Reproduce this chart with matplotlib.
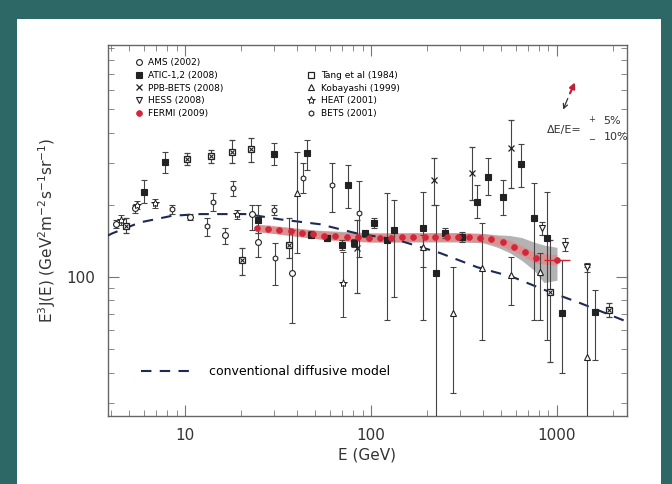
import matplotlib
matplotlib.use('Agg')
import matplotlib.pyplot as plt
import numpy as np
from matplotlib.lines import Line2D
from matplotlib.patches import Rectangle
from matplotlib.ticker import LogLocator, FixedLocator, FixedFormatter, NullFormatter

# ---------------- data (E in GeV, E^3 J in GeV^2 m^-2 s^-1 sr^-1) ----------------
fermi_E = [24.5, 28, 32, 37, 42.5, 49, 56, 64, 74, 85, 97, 112, 128, 147, 169, 194,
           222, 255, 293, 337, 387, 444, 510, 585, 672, 772, 1000]
fermi_V = [160, 159, 157, 155, 153, 151, 149, 148, 147, 146.5, 146, 146, 146, 146.5,
           147, 147, 147, 147, 147, 146.5, 146, 144, 140, 134, 127, 120, 118]
fermi_band_lo = [154, 153, 151, 149, 147, 145, 143, 142, 141, 140.5, 140, 140, 140, 140.5,
                 141, 141, 141, 141, 141, 140.5, 140, 138, 134, 128, 121, 114, 112]
fermi_band_hi = [166, 165, 163, 161, 159, 157, 155, 154, 153, 152.5, 152, 152, 152, 152.5,
                 153, 153, 153, 153, 153, 152.5, 152, 150, 146, 140, 133, 126, 124]

sys_E = [24.5, 50, 100, 200, 300, 400, 480, 560, 650, 750, 850, 1000]
sys_lo = [155, 145, 140, 140, 140, 139, 133, 126, 117, 107, 95, 97]
sys_hi = [165, 157, 153, 153, 153, 152, 150, 149, 146, 140, 136, 133]

model_E = [3.85, 4.05, 5.73, 8.5, 12.0, 21.5, 32.4, 53.2, 84.1, 138, 235, 372, 580, 861, 1330, 2265, 2380]
model_V = [149, 152, 169, 180, 183, 183, 174, 166, 152, 143, 126, 110, 100, 88.3, 78, 66.2, 65]

atic_E = [6.0, 7.8, 24.7, 30.1, 45.3, 47.6, 58.0, 69.8, 75.2, 81.1, 92.9, 104, 122, 133,
          190, 224, 250, 308, 372, 426, 513, 640, 752, 883, 1064, 1600]
atic_V = [226, 301, 173, 325, 329, 150, 145, 136, 242, 139, 152, 168, 143, 157,
          160, 104, 152, 147, 205, 261, 215, 296, 176, 145, 70.8, 71.5]
atic_lo = [203, 271, 152, 293, 279, 145, 141, 130, 194, 134, 147, 160, 66, 82.5,
           66, 20, 145, 140, 176, 220, 181, 237, 66, 54.6, 39.8, 45]
atic_hi = [254, 332, 200, 362, 372, 155, 150, 143, 293, 144, 157, 176, 224, 209,
           226, 200, 160, 154, 242, 313, 254, 358, 246, 226, 118, 88]

tang_E = [4.82, 10.25, 13.8, 17.9, 20.3, 22.6, 36.2, 917, 1905]
tang_V = [163, 310, 319, 332, 118, 341, 136, 86.6, 72.8]
tang_lo = [152, 293, 298, 298, 102, 301, 120, 44.2, 68]
tang_hi = [176, 329, 338, 372, 132, 379, 176, 143, 78]

ppb_E = [84.1, 218, 349, 566]
ppb_V = [132, 254, 271, 345]
ppb_lo = [85.7, 200, 209, 235]
ppb_hi = [173, 313, 348, 451]

hess_E = [830, 1104, 1449]
hess_V = [160, 136, 110]
hess_lo = [150, 128, 105]
hess_hi = [170, 146, 115]

koba_E = [40.0, 190, 276, 395, 566, 810, 1449]
koba_V = [224, 133, 70.8, 109, 102, 105, 46.4]
koba_lo = [126, 110, 32.9, 54.6, 76.4, 66.2, 20]
koba_hi = [332, 150, 110, 168, 121, 126, 110]

heat_E = [4.53, 5.52, 6.9, 19.0, 70.7]
heat_V = [173, 200, 203, 183, 94.4]
heat_lo = [165, 192, 194, 175, 68.1]
heat_hi = [181, 208, 211, 190, 127]

bets_E = [8.5, 13.1, 14.1, 18.1, 30.1, 30.5, 43.1, 61.7, 86.2]
bets_V = [192, 163, 205, 235, 190, 120, 258, 242, 185]
bets_lo = [183, 148, 188, 218, 181, 92.6, 224, 187, 121]
bets_hi = [200, 176, 224, 251, 200, 139, 298, 298, 251]

ams_E = [4.26, 5.38, 10.6, 16.4, 22.9, 24.7, 37.6]
ams_V = [166, 194, 178, 150, 183, 140, 104]
ams_lo = [160, 185, 173, 137, 157, 121, 64.3]
ams_hi = [173, 200, 183, 160, 200, 152, 157]

x_ticks = [10, 100, 1000]
x_labels = ['10', '100', '1000']
y_ticks = [100]
y_labels = ['100']

# ---------------- figure ----------------
TEAL = '#2d6866'
fig = plt.figure(figsize=(6.72, 4.84), dpi=100, facecolor=TEAL)
fig.add_artist(Rectangle((17 / 672, 0), (661 - 17) / 672, 1 - 19 / 484,
                         transform=fig.transFigure, facecolor='white',
                         edgecolor='none', zorder=-10))
ax = fig.add_axes([108 / 672, (484 - 416) / 484, 519 / 672, 371 / 484])
ax.set_xscale('log')
ax.set_yscale('log')
ax.set_xlim(3.85, 2380)
ax.set_ylim(26.4, 926)

ink = '#222222'
ecol = '#444444'

def eb(E, V, lo, hi, **kw):
    E = np.asarray(E, float); V = np.asarray(V, float)
    yerr = [V - np.asarray(lo, float), np.asarray(hi, float) - V]
    ax.errorbar(E, V, yerr=yerr, ecolor=ecol, elinewidth=0.8, capsize=2.2,
                capthick=0.8, linestyle='none', zorder=4, **kw)

# Fermi bands
ax.fill_between(sys_E, sys_lo, sys_hi, color='#9a9a9a', alpha=0.75, lw=0, zorder=2)
ax.fill_between(fermi_E, fermi_band_lo, fermi_band_hi, color='#ee8080', alpha=0.7, lw=0, zorder=3)

# model
ax.plot(model_E, model_V, color='#1c2a55', lw=1.5, dashes=(5, 4), zorder=3.5)

sty = dict(
    ams=dict(marker='o', ms=4.2, mfc='white', mec=ink, mew=0.8),
    atic=dict(marker='s', ms=4.2, mfc=ink, mec=ink, mew=0.8),
    ppb=dict(marker='x', ms=4.5, mfc='none', mec=ink, mew=0.9),
    hess=dict(marker='v', ms=4.5, mfc='white', mec=ink, mew=0.8),
    fermi=dict(marker='o', ms=4.2, mfc='#d0283a', mec='#d0283a', mew=0.5),
    tang=dict(marker='s', ms=4.5, mfc='white', mec=ink, mew=0.9),
    koba=dict(marker='^', ms=4.5, mfc='white', mec=ink, mew=0.8),
    heat=dict(marker='*', ms=6.0, mfc='white', mec=ink, mew=0.7),
    bets=dict(marker='h', ms=3.8, mfc='white', mec=ink, mew=0.8),
)

eb(ams_E, ams_V, ams_lo, ams_hi, **sty['ams'])
eb(atic_E, atic_V, atic_lo, atic_hi, **sty['atic'])
eb(ppb_E, ppb_V, ppb_lo, ppb_hi, **sty['ppb'])
eb(hess_E, hess_V, hess_lo, hess_hi, **sty['hess'])
eb(tang_E, tang_V, tang_lo, tang_hi, **sty['tang'])
ax.plot(tang_E, tang_V, linestyle='none', marker='x', ms=3.5, mec=ink, mew=0.8, zorder=5)
eb(koba_E, koba_V, koba_lo, koba_hi, **sty['koba'])
eb(heat_E, heat_V, heat_lo, heat_hi, **sty['heat'])
eb(bets_E, bets_V, bets_lo, bets_hi, **sty['bets'])

fx = np.zeros(len(fermi_E)); fx_hi = np.zeros(len(fermi_E))
fx[-1] = 150; fx_hi[-1] = 180
ax.errorbar(fermi_E, fermi_V, xerr=[fx, fx_hi], linestyle='none', ecolor='#d0283a',
            elinewidth=1.0, zorder=6, **sty['fermi'])

# axes styling
for s in ax.spines.values():
    s.set_color('#666666'); s.set_linewidth(1.0)
ax.xaxis.set_major_locator(FixedLocator(x_ticks))
ax.xaxis.set_major_formatter(FixedFormatter(x_labels))
ax.xaxis.set_minor_locator(LogLocator(base=10, subs=np.arange(2, 10)))
ax.xaxis.set_minor_formatter(NullFormatter())
ax.yaxis.set_major_locator(FixedLocator(y_ticks))
ax.yaxis.set_major_formatter(FixedFormatter(y_labels))
ax.yaxis.set_minor_locator(LogLocator(base=10, subs=np.arange(2, 10)))
ax.yaxis.set_minor_formatter(NullFormatter())
ax.tick_params(which='both', direction='in', top=True, right=True, color='#777777')
ax.tick_params(which='major', length=8, width=0.8, labelsize=11, labelcolor='#333333', pad=9)
ax.tick_params(which='minor', length=4, width=0.6)

ax.set_xlabel('E (GeV)', fontsize=11, color='#333333', labelpad=3)
ax.set_ylabel(r'E$^3$J(E) (GeV$^2$m$^{-2}$s$^{-1}$sr$^{-1}$)', fontsize=11,
              color='#333333', labelpad=6)

# legends
def h(key, extra=None):
    d = dict(sty[key]); d.update(extra or {})
    return Line2D([], [], linestyle='none', **d)

handles = [h('ams'), h('atic'), h('ppb'), h('hess'), h('fermi'),
           Line2D([], [], linestyle='none'),
           h('tang'), h('koba'), h('heat'), h('bets')]
labels = ['AMS (2002)', 'ATIC-1,2 (2008)', 'PPB-BETS (2008)', 'HESS (2008)', 'FERMI (2009)',
          '', 'Tang et al (1984)', 'Kobayashi (1999)', 'HEAT (2001)', 'BETS (2001)']
leg1 = ax.legend(handles, labels, ncol=2, loc='upper left', bbox_to_anchor=(0.038, 0.982),
                 frameon=False, fontsize=6.5, handlelength=1.0, handletextpad=0.6,
                 labelspacing=0.42, columnspacing=9.2, borderpad=0.2)
ax.add_artist(leg1)
leg2 = ax.legend([Line2D([], [], color='#1c2a55', lw=1.5, dashes=(5, 4))],
                 ['conventional diffusive model'], loc='center left',
                 bbox_to_anchor=(0.046, 0.119), frameon=False, fontsize=9,
                 handlelength=4.3, handletextpad=1.2, borderpad=0.2)

# energy-resolution arrow annotation
ax.annotate('', xy=(0.902, 0.906), xytext=(0.888, 0.863), xycoords='axes fraction',
            arrowprops=dict(arrowstyle='-|>', color='#c0203a', lw=1.6, mutation_scale=8))
ax.annotate('', xy=(0.875, 0.819), xytext=(0.888, 0.863), xycoords='axes fraction',
            arrowprops=dict(arrowstyle='->', color='#333333', lw=0.9, mutation_scale=8))
ax.text(0.846, 0.772, 'ΔE/E=', transform=ax.transAxes, fontsize=8, color='#333333',
        va='center', ha='left')
ax.text(0.932, 0.800, '+', transform=ax.transAxes, fontsize=6, color='#333333', va='center', ha='center')
ax.text(0.932, 0.745, '−', transform=ax.transAxes, fontsize=6, color='#333333', va='center', ha='center')
ax.text(0.955, 0.795, '5%', transform=ax.transAxes, fontsize=8, color='#333333', va='center', ha='left')
ax.text(0.955, 0.752, '10%', transform=ax.transAxes, fontsize=8, color='#333333', va='center', ha='left')

fig.savefig('out.png', dpi=100, facecolor=fig.get_facecolor())
